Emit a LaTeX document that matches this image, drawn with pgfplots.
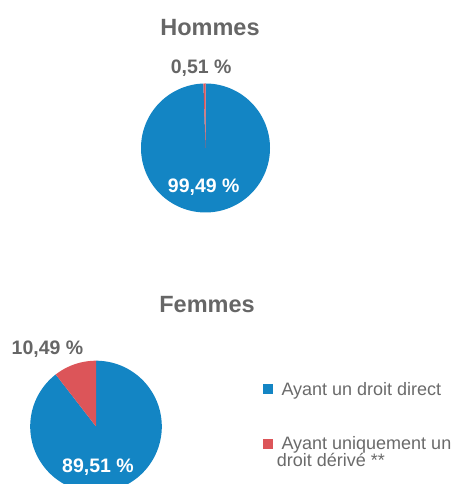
\documentclass[border=0pt]{standalone}
\usepackage{fontspec}
\setmainfont{Liberation Sans}
\usepackage{pgfplots}
\usepackage{pgfplotstable}
\pgfplotsset{compat=1.18}
\definecolor{pieblue}{HTML}{1385C4}
\definecolor{piered}{HTML}{DC5559}
\definecolor{txtgray}{HTML}{666666}
\definecolor{leggray}{HTML}{6A6A6A}
% group, share with direct right, share with only derived right (percent)
\pgfplotstableread{
group  direct  derive
Hommes 99.49   0.51
Femmes 89.51   10.49
}\shares
\pgfplotstablegetelem{0}{direct}\of\shares \let\hD\pgfplotsretval
\pgfplotstablegetelem{1}{direct}\of\shares \let\fD\pgfplotsretval
\begin{document}
\begin{tikzpicture}
\useasboundingbox (0,0) rectangle (453pt,484pt);
\begin{axis}[
  at={(0,0)}, anchor=south west,
  scale only axis, width=453pt, height=484pt,
  xmin=0, xmax=453, ymin=0, ymax=484,
  hide axis, clip mode=individual,
  legend style={at={(axis cs:262.5,104)}, anchor=north west, draw=none, fill=none,
    font=\fontsize{18}{21}\selectfont, text=leggray, row sep=36pt,
    inner sep=0pt, outer sep=0pt,
    /tikz/every odd column/.append style={column sep=7pt}},
  legend cell align=left,
  legend image code/.code={\fill[#1] (0pt,-5pt) rectangle (10pt,5pt);},
]
% Hommes pie, centre (205.5,336), r = 64.5
\addplot[fill=pieblue, draw=none, domain=0:\hD, samples=200, variable=\t]
  ({205.5+64.5*sin(3.6*\t)}, {336+64.5*cos(3.6*\t)}) -- (axis cs:205.5,336) -- cycle;
\addlegendentry{Ayant un droit direct}
\addplot[fill=piered, draw=none, domain=\hD:100, samples=4, variable=\t]
  ({205.5+64.5*sin(3.6*\t)}, {336+64.5*cos(3.6*\t)}) -- (axis cs:205.5,336) -- cycle;
\addlegendentry{Ayant uniquement un}
% Femmes pie, centre (96,57.5), r = 65.8
\addplot[fill=pieblue, draw=none, domain=0:\fD, samples=200, variable=\t, forget plot]
  ({96+65.8*sin(3.6*\t)}, {57.5+65.8*cos(3.6*\t)}) -- (axis cs:96,57.5) -- cycle;
\addplot[fill=piered, draw=none, domain=\fD:100, samples=30, variable=\t, forget plot]
  ({96+65.8*sin(3.6*\t)}, {57.5+65.8*cos(3.6*\t)}) -- (axis cs:96,57.5) -- cycle;
% titles
\node[anchor=base, text=txtgray, font=\fontsize{23.5}{28}\selectfont\bfseries] at (axis cs:210,448.3) {Hommes};
\node[anchor=base, text=txtgray, font=\fontsize{23.5}{28}\selectfont\bfseries] at (axis cs:207,171.7) {Femmes};
% value labels
\node[anchor=base, text=txtgray, font=\fontsize{19.5}{23}\selectfont\bfseries] at (axis cs:201.2,410.7) {0,51 \%};
\node[anchor=base, text=white, font=\fontsize{19.5}{23}\selectfont\bfseries] at (axis cs:203.7,291.3) {99,49 \%};
\node[anchor=base, text=txtgray, font=\fontsize{19.5}{23}\selectfont\bfseries] at (axis cs:47.5,129) {10,49 \%};
\node[anchor=base, text=white, font=\fontsize{19.5}{23}\selectfont\bfseries] at (axis cs:98,11.3) {89,51 \%};
% second line of the second legend entry
\node[anchor=base west, inner sep=0pt, text=leggray, font=\fontsize{18}{21}\selectfont] at (axis cs:276.7,17) {droit dérivé **};
\end{axis}
\end{tikzpicture}
\end{document}
